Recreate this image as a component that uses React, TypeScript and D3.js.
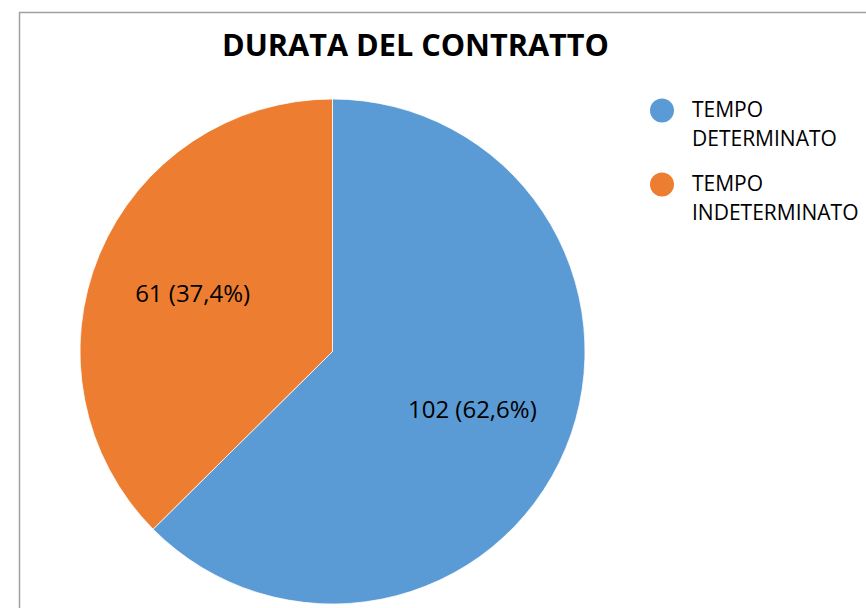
import { useEffect, useRef } from 'react';
import * as d3 from 'd3';

const categories = ['TEMPO DETERMINATO', 'TEMPO INDETERMINATO'];
const legendLines = [['TEMPO', 'DETERMINATO'], ['TEMPO', 'INDETERMINATO']];
const values = [102, 61];
const percentLabels = ['62,6%', '37,4%'];
const colors = ['#5B9BD5', '#ED7D31'];
const title = 'DURATA DEL CONTRATTO';

const W = 866;
const H = 608;

export default function App() {
  const ref = useRef<SVGSVGElement>(null);

  useEffect(() => {
    const svg = d3.select(ref.current);
    svg.selectAll('*').remove();

    const font = "'Open Sans', sans-serif";
    const cx = 332.5;
    const cy = 351.5;
    const radius = 252.5;

    svg.append('rect').attr('width', W).attr('height', H).attr('fill', '#fff');

    // chart frame (only top and left edges are visible)
    svg
      .append('path')
      .attr('d', `M19.5,${H} V12.5 H${W}`)
      .attr('fill', 'none')
      .attr('stroke', '#a0a0a0')
      .attr('stroke-width', 1.5);

    svg
      .append('text')
      .attr('x', 415.5)
      .attr('y', 56)
      .attr('text-anchor', 'middle')
      .attr('font-family', font)
      .attr('font-weight', 'bold')
      .attr('font-size', 30)
      .attr('textLength', 387)
      .attr('lengthAdjust', 'spacingAndGlyphs')
      .attr('fill', '#000')
      .text(title);

    const data = categories.map((c, i) => ({ name: c, value: values[i], pct: percentLabels[i], color: colors[i] }));

    const pieGen = d3
      .pie<any>()
      .value((d) => d.value)
      .sort(null);
    const arcGen = d3.arc<any>().innerRadius(0).outerRadius(radius);
    const labelArc = d3.arc<any>().innerRadius(radius * 0.6).outerRadius(radius * 0.6);

    const g = svg.append('g').attr('transform', `translate(${cx},${cy})`);
    const slices = g.selectAll('g.slice').data(pieGen(data)).enter().append('g').attr('class', 'slice');

    slices
      .append('path')
      .attr('d', arcGen)
      .attr('fill', (d) => d.data.color)
      .attr('stroke', '#fff')
      .attr('stroke-width', 0.75);

    slices
      .append('text')
      .attr('transform', (d) => {
        const [x, y] = labelArc.centroid(d);
        return `translate(${x},${y})`;
      })
      .attr('text-anchor', 'middle')
      .attr('dy', '0.35em')
      .attr('font-family', font)
      .attr('font-size', 24)
      .attr('fill', '#000')
      .text((d) => `${d.data.value} (${d.data.pct})`);

    // legend
    const legend = svg
      .selectAll('g.legend')
      .data(data)
      .enter()
      .append('g')
      .attr('class', 'legend')
      .attr('transform', (_d, i) => `translate(662,${110.5 + i * 74})`);

    legend.append('circle').attr('r', 12).attr('fill', (d) => d.color);

    legend
      .append('text')
      .attr('x', 30)
      .attr('y', 6.5)
      .attr('font-family', font)
      .attr('font-size', 21)
      .attr('fill', '#000')
      .selectAll('tspan')
      .data((_d, i) => legendLines[i])
      .enter()
      .append('tspan')
      .attr('x', 30)
      .attr('dy', (_t, j) => (j === 0 ? 0 : 28.5))
      .text((t) => t);
  }, []);

  return (
    <svg
      ref={ref}
      width={W}
      height={H}
      style={{ position: 'absolute', left: 0, top: 0, display: 'block' }}
    />
  );
}
